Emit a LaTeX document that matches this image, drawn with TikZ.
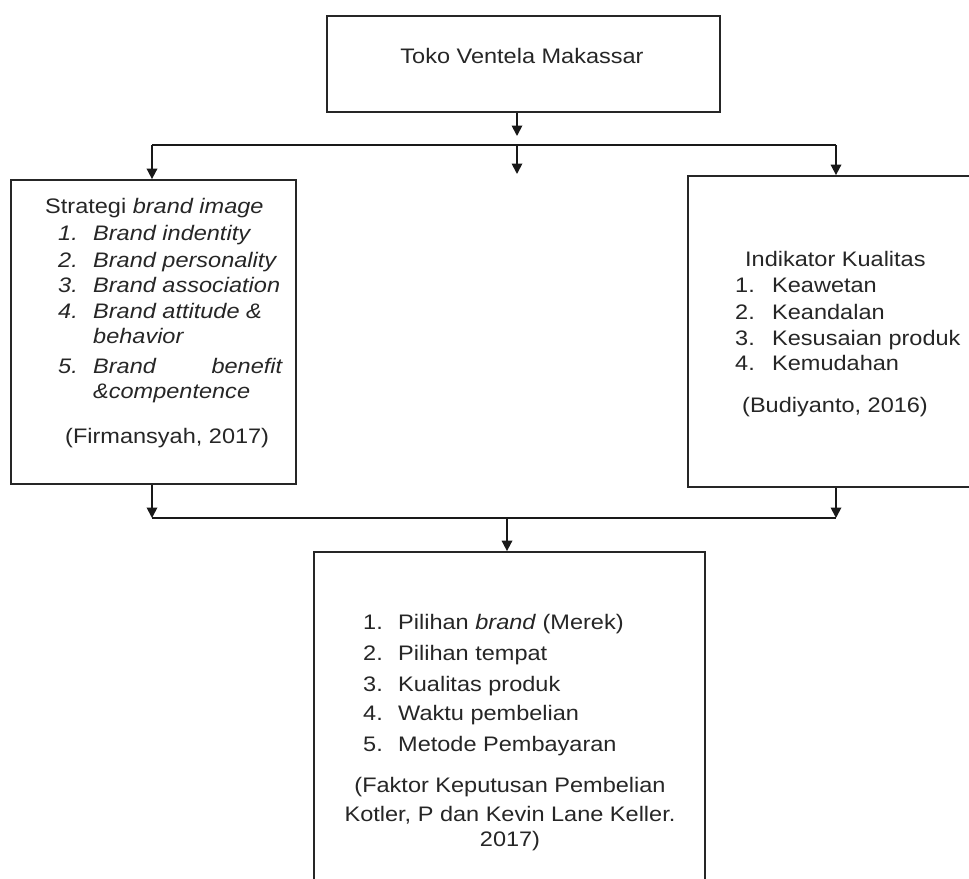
\documentclass[tikz,border=0pt]{standalone}
\usepackage{fontspec}
\setmainfont{Liberation Sans}[FakeStretch=1.12]
\usetikzlibrary{arrows.meta}
\begin{document}
\begin{tikzpicture}[x=1pt,y=-1pt,
  every node/.style={font=\fontsize{21}{25}\selectfont, text=black!85},
  box/.style={draw=black!85, line width=1.8pt, rectangle, inner sep=0pt, fill=none},
  txt/.style={inner sep=0pt, anchor=base west},
  ctxt/.style={inner sep=0pt, anchor=base},
  conn/.style={draw=black!90, line width=1.8pt},
  arr/.style={conn, -{Triangle[width=10.5pt,length=10.5pt]}}]
\useasboundingbox (0,0) rectangle (969,878);
\clip (0,0) rectangle (969,878);
\fill[white] (0,0) rectangle (969,878);

% boxes
\node[box, minimum width=393pt, minimum height=96pt] (top) at (523.5,64) {};
\node[box, minimum width=285pt, minimum height=304pt] (left) at (153.5,332) {};
\node[box, minimum width=302pt, minimum height=311pt] (right) at (839,331.5) {};
\node[box, minimum width=391pt, minimum height=348pt] (bottom) at (509.5,726) {};

% top text
\node[ctxt] (ttoko) at (522,63) {Toko Ventela Makassar};

% left text
\node[txt] (l0) at (45,213) {Strategi \textit{brand image}};
\node[txt] (ln1) at (58,240) {\itshape 1.};
\node[txt] (ln2) at (58,267) {\itshape 2.};
\node[txt] (ln3) at (58,292) {\itshape 3.};
\node[txt] (ln4) at (58,318) {\itshape 4.};
\node[txt] (ln5) at (58,373) {\itshape 5.};
\node[txt] (l1) at (93,240) {\itshape Brand indentity};
\node[txt] (l2) at (93,267) {\itshape Brand personality};
\node[txt] (l3) at (93,292) {\itshape Brand association};
\node[txt] (l4) at (93,318) {\itshape Brand attitude \&};
\node[txt] (l4b) at (93,343) {\itshape behavior};
\node[txt] (l5) at (93,373) {\hbox to 189pt{\itshape Brand\hfill benefit}};
\node[txt] (l5b) at (93,398) {\itshape \&compentence};
\node[txt] (lref) at (65,443) {(Firmansyah, 2017)};

% right text
\node[txt] (r0) at (745,266) {Indikator Kualitas};
\node[txt] (rn1) at (735,292) {1.};
\node[txt] (rn2) at (735,319) {2.};
\node[txt] (rn3) at (735,345) {3.};
\node[txt] (rn4) at (735,370) {4.};
\node[txt] (r1) at (772,292) {Keawetan};
\node[txt] (r2) at (772,319) {Keandalan};
\node[txt] (r3) at (772,345) {Kesusaian produk};
\node[txt] (r4) at (772,370) {Kemudahan};
\node[txt] (rref) at (742,412) {(Budiyanto, 2016)};

% bottom text
\node[txt] (bn1) at (363,629) {1.};
\node[txt] (bn2) at (363,660) {2.};
\node[txt] (bn3) at (363,691) {3.};
\node[txt] (bn4) at (363,720) {4.};
\node[txt] (bn5) at (363,751) {5.};
\node[txt] (b1) at (398,629) {Pilihan \textit{brand} (Merek)};
\node[txt] (b2) at (398,660) {Pilihan tempat};
\node[txt] (b3) at (398,691) {Kualitas produk};
\node[txt] (b4) at (398,720) {Waktu pembelian};
\node[txt] (b5) at (398,751) {Metode Pembayaran};
\node[ctxt] (bref1) at (510,792) {(Faktor Keputusan Pembelian};
\node[ctxt] (bref2) at (510,821) {Kotler, P dan Kevin Lane Keller.};
\node[ctxt] (bref3) at (510,846) {2017)};

% connectors
\coordinate (t1) at (517,136);
\coordinate (hl) at (152,145);
\coordinate (hc) at (517,145);
\coordinate (hr) at (836,145);
\coordinate (c1) at (517,174);
\coordinate (bl) at (152,518);
\coordinate (bc) at (507,518);
\coordinate (br) at (836,518);

\draw[arr] (top.south -| t1) -- (t1);
\draw[conn] (hl) -- (hr);
\draw[arr] (hl) -- (hl |- left.north);
\draw[arr] (hc) -- (c1);
\draw[arr] (hr) -- (hr |- right.north);

\draw[arr] (bl |- left.south) -- (bl);
\draw[arr] (br |- right.south) -- (br);
\draw[conn] (bl) -- (br);
\draw[arr] (bc) -- (bc |- bottom.north);
\end{tikzpicture}
\end{document}
